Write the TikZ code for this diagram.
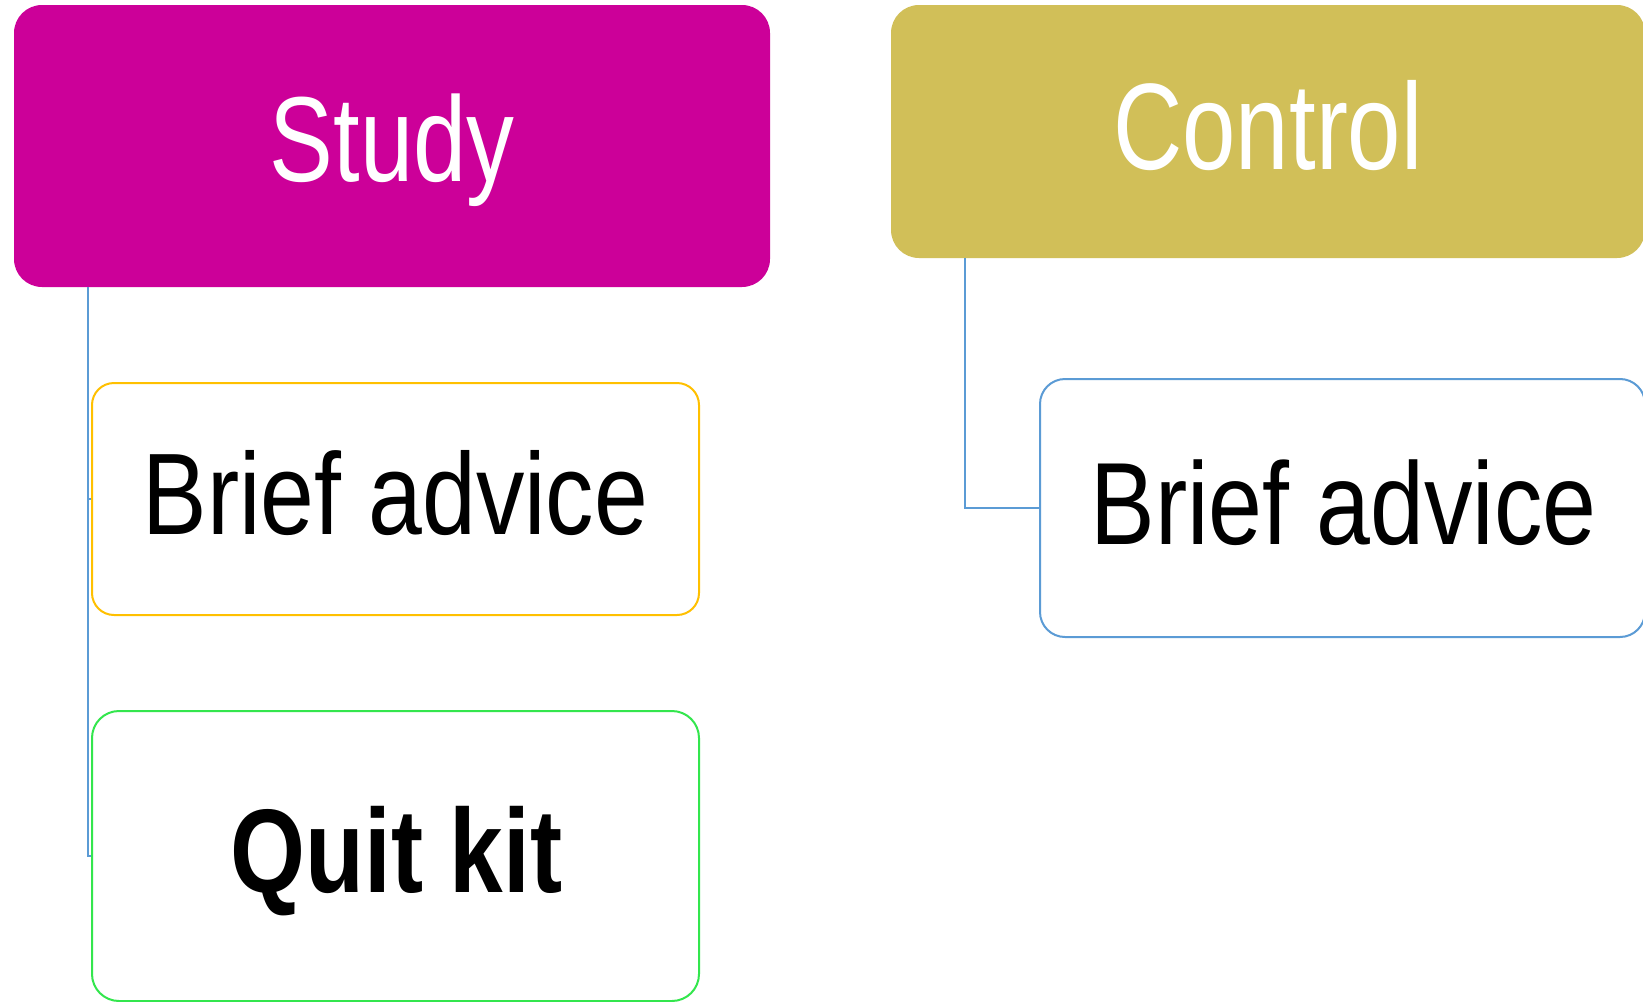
\documentclass[tikz,border=0pt]{standalone}
\usepackage{fontspec}
\usepackage{graphicx}
\setmainfont{Liberation Sans}
\definecolor{studyc}{HTML}{CC0099}
\definecolor{controlc}{HTML}{D1BF58}
\definecolor{yellowc}{HTML}{FFC000}
\definecolor{greenc}{HTML}{33E64D}
\definecolor{bluec}{HTML}{5B9BD5}
\tikzset{
  header/.style={rectangle, rounded corners=28pt, inner sep=0pt},
  childbox/.style={rectangle, draw, line width=2pt, fill=white, inner sep=0pt},
  txt/.style={inner sep=0pt},
  link/.style={draw=bluec, line width=2pt},
}
\begin{document}
\begin{tikzpicture}[x=1pt,y=-1pt]
\useasboundingbox (0,0) rectangle (1643,1001);
\fill[white] (0,0) rectangle (1643,1001);
\node[header, fill=studyc, minimum width=756pt, minimum height=282pt] (study) at (392,146) {};
\node[header, fill=controlc, minimum width=754pt, minimum height=253pt] (control) at (1268,131.5) {};
\node[childbox, draw=yellowc, rounded corners=22pt, minimum width=607pt, minimum height=232pt] (brief1) at (395.5,499) {};
\node[childbox, draw=greenc, rounded corners=27pt, minimum width=607pt, minimum height=290pt] (quit) at (395.5,856) {};
\node[childbox, draw=bluec, rounded corners=25pt, minimum width=605pt, minimum height=258pt] (brief2) at (1342.5,508) {};
\node[txt, text=white] (studyt) at ([yshift=-4pt]study.center)
  {\fontsize{121}{130}\selectfont\scalebox{0.79}[1]{Study}};
\node[txt, text=white] (controlt) at ([yshift=6pt]control.center)
  {\fontsize{123}{130}\selectfont\scalebox{0.78}[1]{Control}};
\node[txt] (brief1t) at ([yshift=6pt]brief1.center)
  {\fontsize{116}{130}\selectfont\scalebox{0.834}[1]{Brief advice}};
\node[txt] (quitt) at ([xshift=1pt,yshift=-5pt]quit.center)
  {\fontsize{119}{130}\selectfont\bfseries\scalebox{0.81}[1]{Quit kit}};
\node[txt] (brief2t) at ([xshift=1pt,yshift=5pt]brief2.center)
  {\fontsize{117}{130}\selectfont\scalebox{0.828}[1]{Brief advice}};
\draw[link] ([xshift=74pt]study.south west) |- (brief1.west);
\draw[link] ([xshift=74pt]study.south west) |- (quit.west);
\draw[link] ([xshift=74pt]control.south west) |- (brief2.west);
\end{tikzpicture}
\end{document}
